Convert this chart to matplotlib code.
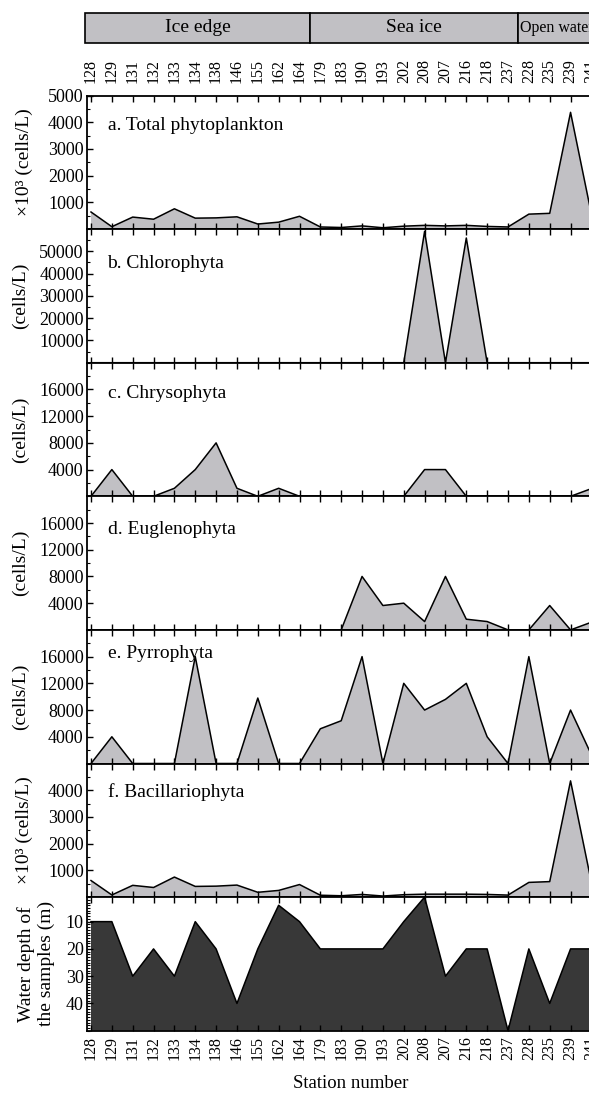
import numpy as np
import matplotlib
matplotlib.use("Agg")
import matplotlib.pyplot as plt
from matplotlib.ticker import MultipleLocator, FixedLocator

plt.rcParams['font.family'] = ['Liberation Serif', 'DejaVu Serif']

# Stations in sampling order
stations = ['128', '129', '131', '132', '133', '134', '138', '146', '155', '162', '164',
            '179', '183', '190', '193', '202', '208', '207', '216', '218', '237',
            '228', '235', '239', '241']

# Zones along the transect (start/end in station index)
zone_names = ['Ice edge', 'Sea ice', 'Open water']
zone_edges = [-0.29, 10.5, 20.5, 27.0]

# Abundances
total = [640, 90, 450, 370, 760, 410, 420, 460, 190, 260, 480, 80, 60, 120, 50,
         110, 140, 120, 140, 100, 80, 560, 590, 4370, 560]               # x10^3 cells/L
chloro = [0, 0, 0, 0, 0, 0, 0, 0, 0, 0, 0, 0, 0, 0, 0,
          0, 59000, 0, 56000, 0, 0, 0, 0, 0, 0]
chryso = [0, 4000, 0, 0, 1200, 4000, 8000, 1200, 0, 1200, 0, 0, 0, 0, 0,
          0, 4000, 4000, 0, 0, 0, 0, 0, 0, 1150]
eugleno = [0, 0, 0, 0, 0, 0, 0, 0, 0, 0, 0, 0, 0, 8000, 3650,
           4000, 1250, 8000, 1600, 1250, 0, 0, 3650, 0, 1150]
pyrro = [0, 4000, 0, 0, 0, 16000, 0, 0, 9800, 0, 0, 5200, 6400, 16000, 0,
         12000, 8000, 9600, 12000, 4000, 0, 16000, 0, 8000, 1300]
bacill = [620, 80, 440, 360, 750, 400, 410, 450, 180, 250, 470, 70, 50, 100, 40,
          90, 110, 110, 110, 100, 75, 550, 580, 4350, 550]               # x10^3 cells/L
depth = [10, 10, 30, 20, 30, 10, 20, 40, 20, 4, 10, 20, 20, 20, 20,
         10, 1, 30, 20, 20, 50, 20, 40, 20, 20]                          # m

panel_titles = ['a. Total phytoplankton', 'b. Chlorophyta', 'c. Chrysophyta',
                'd. Euglenophyta', 'e. Pyrrophyta', 'f. Bacillariophyta']
panel_data = [total, chloro, chryso, eugleno, pyrro, bacill]
ylabels = ['×10³ (cells/L)', '(cells/L)', '(cells/L)', '(cells/L)', '(cells/L)', '×10³ (cells/L)']
ylims = [5000, 60000, 20000, 20000, 20000, 5000]
yticks = [[1000, 2000, 3000, 4000, 5000],
          [10000, 20000, 30000, 40000, 50000],
          [4000, 8000, 12000, 16000],
          [4000, 8000, 12000, 16000],
          [4000, 8000, 12000, 16000],
          [1000, 2000, 3000, 4000]]
yminor = [500, 5000, 2000, 2000, 2000, 500]
depth_ticks = [10, 20, 30, 40]

LIGHT = '#c1c0c4'
DARK = '#383838'

W, H = 589, 1095
fig = plt.figure(figsize=(W / 100, H / 100), dpi=100)

left_px, right_px = 86.5, 620.0
step_px = 20.85
x0 = -0.216
x1 = x0 + (right_px - left_px) / step_px
x = np.arange(len(stations))


def add_ax(top, bottom):
    return fig.add_axes([left_px / W, 1 - bottom / H, (right_px - left_px) / W, (bottom - top) / H])


# zone band on top
band = add_ax(12.7, 43.3)
band.set_xlim(x0, x1)
band.set_ylim(0, 1)
band.axis('off')
for i, name in enumerate(zone_names):
    band.axvspan(zone_edges[i], zone_edges[i + 1], ymin=0, ymax=1, facecolor=LIGHT,
                 edgecolor='black', lw=1.2, clip_on=False)
    if name == 'Open water':
        band.text(zone_edges[i] + 0.08, 0.5, name, ha='left', va='center', fontsize=11.5)
    else:
        band.text((zone_edges[i] + zone_edges[i + 1]) / 2, 0.5, name, ha='center',
                  va='center', fontsize=14)

top0 = 95.5
ph = 133.6
title_offsets = [29.5, 34, 31, 33, 24, 29]
ylabel_x = [24, 20, 20, 20, 20, 24]

axes = []
for k in range(7):
    top = top0 + k * ph
    ax = add_ax(top, top + ph)
    axes.append(ax)
    ax.set_xlim(x0, x1)
    ax.set_xticks(x)
    ax.tick_params(axis='x', which='both', direction='in', top=True, bottom=True,
                   length=4.5, width=1, labelbottom=False, labeltop=False)
    ax.tick_params(axis='y', which='major', direction='in', length=4.5, width=1,
                   labelsize=13, pad=2)
    ax.tick_params(axis='y', which='minor', direction='in', length=2.5, width=0.8)
    for s in ax.spines.values():
        s.set_linewidth(1.3)
    ax.spines['right'].set_visible(False)

    if k < 6:
        vals = panel_data[k]
        ax.fill_between(x, vals, 0, facecolor=LIGHT, lw=0)
        ax.plot(x, vals, color='black', lw=1.1)
        ax.set_ylim(0, ylims[k])
        ax.yaxis.set_major_locator(FixedLocator(yticks[k]))
        ax.yaxis.set_minor_locator(MultipleLocator(yminor[k]))
        ax.text((107.5 - left_px) / (right_px - left_px), 1 - title_offsets[k] / ph,
                panel_titles[k], transform=ax.transAxes, ha='left', va='center', fontsize=14)
        fig.text(ylabel_x[k] / W, 1 - (top + ph / 2) / H, ylabels[k], rotation=90,
                 ha='center', va='center', fontsize=14)
    else:
        ax.fill_between(x, depth, 50, facecolor=DARK, lw=0)
        ax.plot(x, depth, color='black', lw=1.1)
        ax.set_ylim(50, 1)
        ax.yaxis.set_major_locator(FixedLocator(depth_ticks))
        ax.yaxis.set_minor_locator(MultipleLocator(1))
        fig.text(36 / W, 1 - (top + ph / 2) / H, 'Water depth of\nthe samples (m)',
                 rotation=90, ha='center', va='center', fontsize=14, linespacing=1.15)

# station labels on top and bottom
axes[0].tick_params(axis='x', labeltop=True, labelsize=11.5, pad=8.7)
axes[0].set_xticklabels(stations, rotation=90)
axes[-1].tick_params(axis='x', labelbottom=True, labelsize=11.5, pad=4)
axes[-1].set_xticklabels(stations, rotation=90)

fig.text(351 / W, 1 - 1083 / H, 'Station number', ha='center', va='center', fontsize=13.5)

fig.savefig('out.png', dpi=100)
